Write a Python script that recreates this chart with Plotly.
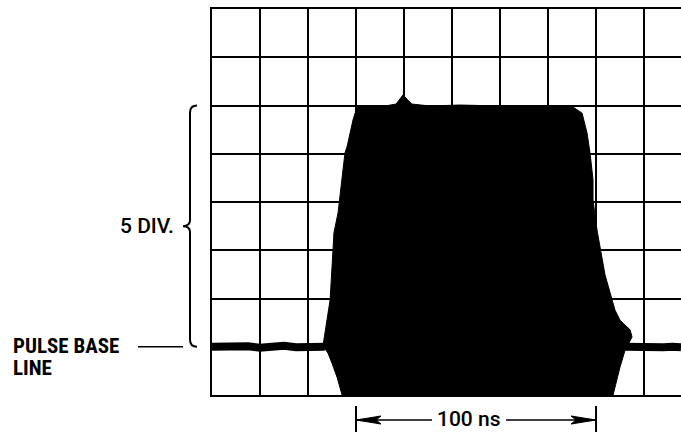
import plotly.graph_objects as go

# ---- data (time in ns, amplitude in graticule divisions) ----
NS_PER_DIV = 20
X_MAX = 195.4          # visible part of the 10-division graticule
Y_DIVS = 8

# pulse envelope outline (clockwise from bottom-left)
pulse_t = [54.2, 52.1, 50.0, 48.3, 46.25, 47.1, 49.2, 50.0, 50.8, 52.5, 54.6,
           55.4, 56.25, 57.5, 58.75, 59.6, 60.8, 65.8, 72.1, 76.7, 78.3, 79.6,
           81.25, 83.3, 90.8, 103.3, 120.0, 136.7, 150.4, 154.2, 156.25, 157.5,
           158.75, 158.75, 160.4, 161.7, 163.75, 166.7, 167.9, 170.0, 174.2,
           175.0, 172.1, 170.0, 168.75, 167.1]
pulse_v = [0.0, 0.37, 0.66, 0.87, 1.02, 1.28, 1.97, 2.65, 3.36, 3.77, 4.77,
           5.02, 5.14, 5.43, 5.70, 5.84, 5.97, 5.99, 5.99, 6.03, 6.13, 6.22,
           6.13, 6.03, 5.99, 6.01, 5.99, 5.99, 5.97, 5.84, 5.43, 5.02,
           4.46, 4.04, 3.42, 3.03, 2.49, 1.97, 1.76, 1.55, 1.35,
           1.20, 0.93, 0.58, 0.31, 0.0]

# noisy base line before and after the pulse
base_left_t = [0, 5, 10, 15, 20, 25, 30, 35, 40, 45, 47]
base_left_v = [1.00, 1.01, 0.99, 1.01, 0.98, 1.00, 1.02, 0.99, 1.01, 1.02, 1.00]
base_right_t = [172, 176, 180, 184, 188, 192, 195.4]
base_right_v = [1.00, 0.99, 0.98, 1.00, 0.99, 1.00, 0.99]

# annotation values
span_start, span_end = 60, 160       # 100 ns marker
base_level = 1                       # pulse base line (div)
top_level = 6                        # pulse top (div)

FONT = ("Roboto Condensed, Liberation Sans Narrow, DejaVu Sans Condensed, "
        "Arial Narrow, Roboto, sans-serif")
FONT2 = "Roboto, Liberation Sans, sans-serif"

fig = go.Figure()
fig.add_trace(go.Scatter(x=base_left_t, y=base_left_v, mode="lines",
                         line=dict(color="black", width=8), hoverinfo="skip"))
fig.add_trace(go.Scatter(x=base_right_t, y=base_right_v, mode="lines",
                         line=dict(color="black", width=8), hoverinfo="skip"))
fig.add_trace(go.Scatter(x=pulse_t, y=pulse_v, mode="lines", fill="toself",
                         fillcolor="black", line=dict(color="black", width=1),
                         hoverinfo="skip"))

fig.update_xaxes(range=[0, X_MAX], dtick=NS_PER_DIV, tick0=0, showgrid=True,
                 gridcolor="black", gridwidth=2, showticklabels=False,
                 zeroline=False, showline=True, linecolor="black", linewidth=2,
                 mirror=True, ticks="", fixedrange=True)
fig.update_yaxes(range=[0, Y_DIVS], dtick=1, tick0=0, showgrid=True,
                 gridcolor="black", gridwidth=2, showticklabels=False,
                 zeroline=False, showline=True, linecolor="black", linewidth=2,
                 ticks="", fixedrange=True)

L, T, B = 212, 9, 39
W, H = 681, 434
pw = W - L
ph = H - T - B

def px_x(p):      # pixel column -> paper x
    return (p - L) / pw

def px_y(p):      # pixel row -> paper y
    return (H - B - p) / ph

def ns_x(t):
    return t / X_MAX

shapes = []
# brace for 5 DIV.
yt, yb = top_level, base_level
ym = (yt + yb) / 2
bx, bh, bc = px_x(190), px_x(197), px_x(183)
brace = (f"M {bh},{yt} Q {bx},{yt} {bx},{yt-0.15} L {bx},{ym+0.12} "
         f"Q {bx},{ym} {bc},{ym} Q {bx},{ym} {bx},{ym-0.12} "
         f"L {bx},{yb+0.15} Q {bx},{yb} {bh},{yb}")
shapes.append(dict(type="path", path=brace, xref="paper", yref="y",
                   line=dict(color="black", width=2)))
# pointer line to base line
shapes.append(dict(type="line", xref="paper", yref="y", x0=px_x(138), x1=px_x(183),
                   y0=base_level, y1=base_level, line=dict(color="black", width=1.5)))
# 100 ns dimension
ya = px_y(420)
x0, x1 = ns_x(span_start), ns_x(span_end)
shapes.append(dict(type="line", xref="paper", yref="paper", x0=x0, x1=x0,
                   y0=px_y(406), y1=px_y(432), line=dict(color="black", width=2)))
shapes.append(dict(type="line", xref="paper", yref="paper", x0=x1, x1=x1,
                   y0=px_y(406), y1=px_y(432), line=dict(color="black", width=2)))
shapes.append(dict(type="line", xref="paper", yref="paper", x0=x0, x1=px_x(432),
                   y0=ya, y1=ya, line=dict(color="black", width=1.5)))
shapes.append(dict(type="line", xref="paper", yref="paper", x0=px_x(506), x1=x1,
                   y0=ya, y1=ya, line=dict(color="black", width=1.5)))
ah_len, ah_w = px_x(212 + 25) - px_x(212), (px_y(0) - px_y(4))
shapes.append(dict(type="path", xref="paper", yref="paper",
                   path=f"M {x0},{ya} L {x0+ah_len},{ya+ah_w} L {x0+ah_len*0.8},{ya} "
                        f"L {x0+ah_len},{ya-ah_w} Z",
                   fillcolor="black", line=dict(color="black", width=1)))
shapes.append(dict(type="path", xref="paper", yref="paper",
                   path=f"M {x1},{ya} L {x1-ah_len},{ya+ah_w} L {x1-ah_len*0.8},{ya} "
                        f"L {x1-ah_len},{ya-ah_w} Z",
                   fillcolor="black", line=dict(color="black", width=1)))

annotations = [
    dict(text="5 DIV.", xref="paper", yref="y", x=px_x(176), y=ym,
         xanchor="right", yanchor="middle", showarrow=False,
         font=dict(family=FONT2, size=21, color="black", weight=500)),
    dict(text="<b>PULSE BASE</b>", xref="paper", yref="paper", x=px_x(11), y=px_y(346),
         xanchor="left", yanchor="middle", showarrow=False,
         font=dict(family=FONT, size=21, color="black")),
    dict(text="<b>LINE</b>", xref="paper", yref="paper", x=px_x(11), y=px_y(368),
         xanchor="left", yanchor="middle", showarrow=False,
         font=dict(family=FONT, size=21, color="black")),
    dict(text="100 ns", xref="paper", yref="paper", x=px_x(469), y=px_y(419),
         xanchor="center", yanchor="middle", showarrow=False,
         font=dict(family=FONT2, size=21, color="black", weight=500)),
]

fig.update_layout(width=W, height=H, margin=dict(l=L, r=0, t=T, b=B, pad=0),
                  plot_bgcolor="white", paper_bgcolor="white", showlegend=False,
                  shapes=shapes, annotations=annotations)
fig.write_html("out.html", config={"displayModeBar": False, "staticPlot": True},
               post_script="document.body.style.margin='0';"
                           "document.body.style.overflow='hidden';")
